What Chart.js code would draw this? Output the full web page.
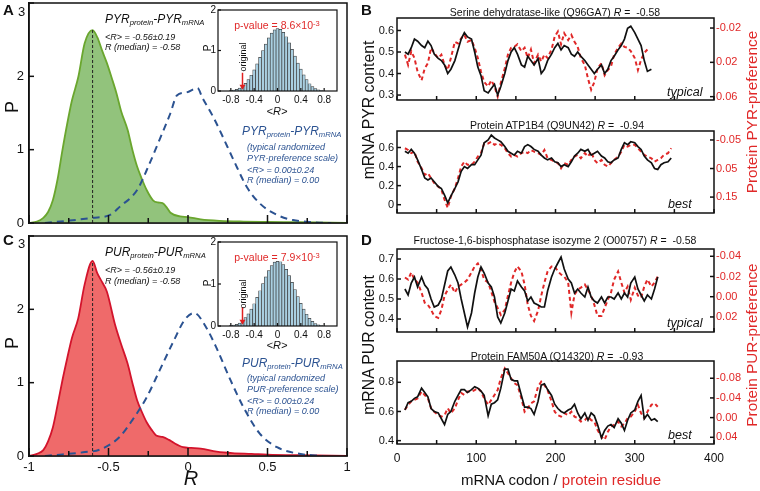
<!DOCTYPE html>
<html>
<head>
<meta charset="utf-8">
<script src="https://cdn.jsdelivr.net/npm/chart.js@4.4.0/dist/chart.umd.min.js"></script>
<style>
body { margin: 0; background: #fff; }
#fig { position: relative; width: 760px; height: 491px; overflow: hidden; font-family: "Liberation Sans", Arial, sans-serif; }
.c { position: absolute; }
.t { position: absolute; white-space: nowrap; line-height: 1; color: #111; }
.i { font-style: italic; }
.blue { color: #2b5291; }
.red { color: #e02828; }
.lab { font-weight: bold; font-size: 15px; }
.rot { transform: translate(-50%, -50%) rotate(-90deg); }
.ctr { transform: translateX(-50%); }
sub { font-size: 0.64em; vertical-align: -0.3em; line-height: 0; }
sup { font-size: 0.72em; vertical-align: 0.45em; line-height: 0; }
</style>
</head>
<body>
<div id="fig"></div>
<script>
// ---- left panels: distributions of R ----
const greenR = [-1.0,-0.95,-0.91,-0.88,-0.85,-0.82,-0.79,-0.76,-0.73,-0.69,-0.65,-0.60,-0.57,-0.54,-0.51,-0.48,-0.45,-0.42,-0.38,-0.35,-0.32,-0.29,-0.26,-0.22,-0.19,-0.16,-0.13,-0.11,-0.05,0.0,0.08,0.2,0.35,0.5,0.7,1.0];
const greenP = [0,0.02,0.07,0.15,0.31,0.6,0.99,1.35,1.67,1.99,2.45,2.63,2.53,2.35,2.18,1.98,1.77,1.52,1.27,1.0,0.77,0.6,0.45,0.31,0.28,0.27,0.2,0.14,0.09,0.08,0.05,0.03,0.02,0.015,0.01,0];
const blueAR = [-0.9,-0.76,-0.6,-0.49,-0.43,-0.32,-0.24,-0.18,-0.11,-0.07,-0.01,0.06,0.09,0.16,0.25,0.31,0.37,0.45,0.56,0.66,0.79,0.9];
const blueAP = [0.0,0.03,0.07,0.11,0.22,0.45,0.82,1.13,1.50,1.74,1.78,1.84,1.71,1.44,1.03,0.75,0.49,0.27,0.11,0.04,0.01,0.0];
const redR = [-1.0,-0.95,-0.91,-0.88,-0.85,-0.82,-0.79,-0.76,-0.73,-0.69,-0.65,-0.60,-0.57,-0.54,-0.51,-0.46,-0.42,-0.38,-0.35,-0.32,-0.29,-0.26,-0.23,-0.20,-0.16,-0.12,-0.09,-0.03,0.02,0.08,0.18,0.28,0.4,0.5,0.7,1.0];
const redP = [0,0.03,0.08,0.2,0.39,0.7,1.03,1.33,1.61,1.88,2.34,2.66,2.49,2.37,2.24,1.80,1.52,1.26,1.0,0.76,0.6,0.46,0.36,0.28,0.26,0.22,0.18,0.12,0.11,0.10,0.06,0.04,0.03,0.02,0.01,0];
const blueCR = [-0.9,-0.85,-0.66,-0.55,-0.43,-0.35,-0.26,-0.18,-0.09,-0.02,0.04,0.11,0.18,0.26,0.35,0.45,0.56,0.70,0.85];
const blueCP = [0.0,0.01,0.05,0.09,0.26,0.49,0.80,1.16,1.57,1.86,1.95,1.77,1.47,1.07,0.66,0.31,0.12,0.03,0.0];
const medianR = -0.6, peakA = 2.63, peakC = 2.66;
const rTicks = [-1,-0.75,-0.5,-0.25,0,0.25,0.5,0.75,1];
const pTicks = [0,1,2,3];

// insets: histograms of <R> for randomized scales
const binR = [-0.85,-0.80,-0.75,-0.70,-0.65,-0.60,-0.55,-0.50,-0.45,-0.40,-0.35,-0.30,-0.25,-0.20,-0.15,-0.10,-0.05,0.00,0.05,0.10,0.15,0.20,0.25,0.30,0.35,0.40,0.45,0.50,0.55,0.60,0.65,0.70,0.75,0.80,0.85];
const histA = [0.00,0.01,0.02,0.04,0.07,0.12,0.19,0.28,0.39,0.52,0.67,0.83,1.00,1.16,1.31,1.43,1.51,1.54,1.52,1.45,1.34,1.19,1.03,0.86,0.69,0.54,0.40,0.28,0.18,0.11,0.06,0.03,0.01,0.00,0.00];
const histC = [0.00,0.01,0.02,0.04,0.07,0.12,0.20,0.29,0.40,0.53,0.68,0.84,1.01,1.17,1.32,1.44,1.52,1.54,1.53,1.46,1.35,1.20,1.04,0.87,0.70,0.54,0.40,0.28,0.18,0.11,0.06,0.03,0.01,0.00,0.00];
const originalR = -0.6, arrowTop = 0.45;
const insetXTicks = [-0.8,-0.4,0,0.4,0.8];
const insetYTicks = [0,1,2];

// ---- right panels: sliding-window profiles ----
const codons = [10,14,18,22,26,31,35,39,43,47,52,56,60,64,68,73,77,81,85,89,94,98,102,106,110,115,119,123,127,131,136,140,144,148,152,157,161,165,169,173,178,182,186,190,195,199,203,207,211,216,220,224,228,232,237,241,245,249,253,258,262,266,270,274,279,283,287,291,295,300,304,308,312,316,321,325,329,333,337,342,346];
const b1Pyr = [0.50,0.49,0.52,0.56,0.55,0.53,0.52,0.55,0.53,0.49,0.47,0.46,0.44,0.40,0.42,0.46,0.51,0.56,0.59,0.57,0.56,0.50,0.43,0.39,0.32,0.31,0.33,0.35,0.30,0.34,0.40,0.46,0.50,0.52,0.49,0.44,0.43,0.48,0.46,0.44,0.47,0.40,0.42,0.46,0.49,0.52,0.54,0.51,0.53,0.52,0.49,0.48,0.50,0.48,0.46,0.44,0.42,0.40,0.42,0.44,0.40,0.42,0.46,0.48,0.51,0.53,0.56,0.61,0.62,0.59,0.56,0.53,0.46,0.41,0.42];
const b1Pref = [0.011,0.023,0.007,0.015,0.031,0.041,0.027,0.021,0.003,0.009,0.015,0.011,0.023,0.029,0.015,-0.004,-0.002,-0.008,-0.012,-0.004,-0.006,0.003,0.015,0.031,0.043,0.048,0.041,0.048,0.060,0.044,0.027,0.011,0.003,0.002,-0.001,0.007,0.003,0.015,0.005,0.021,0.011,0.019,0.011,0.015,0.005,-0.010,-0.016,-0.001,-0.014,-0.006,-0.012,-0.004,0.002,0.015,0.023,0.039,0.052,0.043,0.027,0.021,0.035,0.029,0.025,0.011,0.003,-0.002,0.002,0.003,0.007,0.015,0.029,0.017,0.009,0.005];
const b2Pyr = [0.56,0.54,0.58,0.54,0.47,0.37,0.28,0.26,0.28,0.24,0.19,0.17,0.10,0.02,0.09,0.17,0.24,0.35,0.40,0.38,0.42,0.42,0.47,0.52,0.65,0.68,0.73,0.70,0.68,0.66,0.61,0.56,0.54,0.52,0.56,0.54,0.61,0.63,0.61,0.58,0.56,0.52,0.49,0.47,0.49,0.45,0.44,0.40,0.42,0.40,0.45,0.51,0.54,0.58,0.56,0.58,0.52,0.54,0.56,0.51,0.49,0.45,0.44,0.47,0.49,0.58,0.65,0.63,0.66,0.65,0.61,0.58,0.51,0.47,0.44,0.38,0.37,0.42,0.44,0.45,0.49];
const b2Pref = [-0.021,-0.015,-0.004,-0.009,0.026,0.049,0.072,0.066,0.084,0.101,0.113,0.124,0.159,0.188,0.148,0.119,0.084,0.043,0.026,0.037,0.037,0.026,0.008,-0.004,-0.038,-0.038,-0.044,-0.033,-0.038,-0.033,-0.021,-0.004,0.008,0.002,0.008,-0.004,-0.009,-0.004,-0.015,-0.009,-0.004,0.002,-0.015,0.014,0.020,0.026,0.031,0.049,0.031,0.037,0.020,0.008,0.002,0.014,-0.004,0.008,-0.009,0.020,0.031,0.020,0.037,0.043,0.031,0.020,0.008,-0.009,-0.033,-0.027,-0.033,-0.033,-0.021,-0.009,0.002,0.008,0.014,0.026,0.020,0.014,0.002,-0.004,-0.021];
const d1Pur = [0.55,0.52,0.58,0.61,0.56,0.61,0.57,0.55,0.50,0.46,0.47,0.50,0.57,0.64,0.66,0.62,0.58,0.50,0.43,0.36,0.43,0.53,0.61,0.66,0.63,0.58,0.56,0.51,0.41,0.38,0.43,0.49,0.55,0.54,0.59,0.56,0.54,0.49,0.51,0.48,0.47,0.46,0.46,0.54,0.61,0.65,0.68,0.71,0.65,0.60,0.58,0.53,0.55,0.53,0.51,0.56,0.51,0.49,0.48,0.51,0.48,0.51,0.51,0.50,0.53,0.50,0.53,0.51,0.58,0.61,0.55,0.52,0.49,0.52,0.50,0.55,0.61];
const d1Pref = [-0.019,-0.017,-0.024,-0.017,-0.014,-0.004,0.006,0.008,0.013,0.019,0.021,0.013,-0.001,-0.007,-0.012,-0.004,-0.010,-0.012,-0.014,-0.017,-0.024,-0.030,-0.033,-0.027,-0.017,-0.014,-0.005,0.005,0.011,0.018,0.013,-0.001,-0.014,-0.024,-0.030,-0.025,-0.012,0.008,0.019,0.024,0.014,-0.001,-0.014,-0.025,-0.030,-0.030,-0.025,-0.022,-0.020,-0.014,0.016,-0.002,-0.007,-0.009,-0.012,-0.007,-0.001,0.008,0.019,0.019,0.011,0.003,-0.004,-0.017,-0.025,-0.014,-0.004,-0.010,0.003,-0.009,-0.001,0.001,-0.010,-0.017,-0.010,-0.014,-0.020];
const d2Pur = [0.61,0.66,0.67,0.69,0.70,0.76,0.73,0.70,0.62,0.60,0.59,0.55,0.51,0.58,0.60,0.67,0.71,0.75,0.75,0.73,0.75,0.77,0.76,0.74,0.71,0.57,0.65,0.66,0.68,0.76,0.89,0.89,0.82,0.81,0.81,0.71,0.63,0.63,0.62,0.58,0.67,0.78,0.79,0.75,0.71,0.65,0.62,0.60,0.59,0.61,0.62,0.65,0.59,0.55,0.59,0.54,0.59,0.57,0.51,0.42,0.47,0.50,0.51,0.49,0.55,0.52,0.47,0.54,0.59,0.61,0.67,0.71,0.55,0.58,0.54,0.55,0.53];
const d2Pref = [-0.016,-0.026,-0.033,-0.036,-0.039,-0.053,-0.046,-0.039,-0.019,-0.012,-0.005,-0.002,-0.005,-0.019,-0.009,-0.019,-0.036,-0.050,-0.046,-0.053,-0.053,-0.056,-0.060,-0.053,-0.039,-0.026,-0.036,-0.046,-0.056,-0.080,-0.100,-0.090,-0.080,-0.070,-0.066,-0.039,-0.012,-0.019,-0.029,-0.033,-0.063,-0.073,-0.066,-0.056,-0.033,-0.012,-0.005,-0.002,-0.009,-0.005,-0.012,-0.002,0.001,0.008,0.005,-0.002,0.005,0.008,0.025,0.039,0.045,0.029,0.018,0.015,0.008,0.018,0.012,0.001,-0.002,-0.012,-0.026,-0.009,0.001,-0.012,-0.026,-0.029,-0.022];
const codonTicks = [0,50,100,150,200,250,300,350,400];
const codonLabels = [0,100,200,300,400];

const fig = document.getElementById('fig');
const FONT = '"Liberation Sans", Arial, sans-serif';

function pts(xs, ys) {
  const out = [];
  for (let i = 0; i < ys.length; i++) out.push({x: xs[i], y: ys[i]});
  return out;
}

// frame + inward tick marks, optional white plot background
// settings are kept on the canvas element (fr)
const frame = {
  id: 'frame',
  beforeDraw(chart) {
    const o = chart.canvas.fr;
    if (!o || !o.bg) return;
    const a = chart.chartArea, ctx = chart.ctx;
    ctx.save();
    ctx.fillStyle = o.bg;
    ctx.fillRect(a.left, a.top, a.right - a.left, a.bottom - a.top);
    ctx.restore();
  },
  afterDraw(chart) {
    const o = chart.canvas.fr || {};
    const ctx = chart.ctx, a = chart.chartArea;
    ctx.save();
    ctx.strokeStyle = '#111';
    ctx.lineWidth = o.lw || 1.5;
    Object.keys(chart.scales).forEach(id => {
      const s = chart.scales[id];
      (s.ticks || []).forEach(t => {
        const p = s.getPixelForValue(t.value);
        let len = o.len || 4;
        if (id === 'x' && o.major) {
          const q = t.value / o.major;
          if (Math.abs(q - Math.round(q)) < 1e-6) len = o.majorLen;
        }
        ctx.beginPath();
        if (id === 'x') { ctx.moveTo(p, a.bottom); ctx.lineTo(p, a.bottom - len); }
        else if (id === 'y2') { ctx.moveTo(a.right, p); ctx.lineTo(a.right - len, p); }
        else { ctx.moveTo(a.left, p); ctx.lineTo(a.left + len, p); }
        ctx.stroke();
      });
    });
    ctx.strokeRect(a.left, a.top, a.right - a.left, a.bottom - a.top);
    if (o.arrowAt !== undefined) {
      const x = chart.scales.x.getPixelForValue(o.arrowAt);
      const y0 = chart.scales.y.getPixelForValue(o.arrowFrom);
      const y1 = chart.scales.y.getPixelForValue(0.03);
      ctx.strokeStyle = '#e02020'; ctx.fillStyle = '#e02020'; ctx.lineWidth = 1.5;
      ctx.beginPath(); ctx.moveTo(x, y0); ctx.lineTo(x, y1 - 4); ctx.stroke();
      ctx.beginPath(); ctx.moveTo(x - 3, y1 - 5); ctx.lineTo(x + 3, y1 - 5); ctx.lineTo(x, y1); ctx.closePath(); ctx.fill();
    }
    ctx.restore();
  }
};

function fitY(w) { return s => { s.width = w; s.paddingTop = 0; s.paddingBottom = 0; }; }
function fitX(h) { return s => { s.height = h; s.paddingLeft = 0; s.paddingRight = 0; }; }
function setTicks(vals) { return s => { s.ticks = vals.map(v => ({value: v})); }; }

// area = [left, top, right, bottom] of the plot box, m = margins [l, t, r, b]
function addChart(id, area, m, config, fr) {
  const d = document.createElement('div');
  d.className = 'c';
  d.id = 'box' + id;
  d.style.left = (area[0] - m[0]) + 'px';
  d.style.top = (area[1] - m[1]) + 'px';
  d.style.width = (area[2] - area[0] + m[0] + m[2]) + 'px';
  d.style.height = (area[3] - area[1] + m[1] + m[3]) + 'px';
  const cv = document.createElement('canvas');
  cv.id = id;
  cv.fr = fr;
  d.appendChild(cv);
  fig.appendChild(d);
  config.options.animation = false;
  config.options.responsive = true;
  config.options.maintainAspectRatio = false;
  config.options.events = [];
  config.options.layout = {padding: {top: m[1], right: config.options.scales.y2 ? 0 : m[2], left: 0, bottom: 0}};
  config.options.plugins = {legend: {display: false}, tooltip: {enabled: false}};
  config.plugins = [frame];
  return new Chart(cv, config);
}

const edge = {display: true, color: '#111', width: 1.5};

// main distribution panel (A / C)
function distChart(id, top, fillColor, lineColor, r, p, br, bp, peak, showLabels) {
  addChart(id, [29, top, 347, top + 220], [30, 8, 8, showLabels ? 30 : 4], {
    type: 'line',
    data: {datasets: [
      {data: pts(r, p), order: 2, borderColor: lineColor, backgroundColor: fillColor, fill: 'origin', borderWidth: 1.8, pointRadius: 0, cubicInterpolationMode: 'monotone'},
      {data: pts(br, bp), order: 1, borderColor: '#2b5291', borderDash: [7, 5], borderWidth: 2, pointRadius: 0, fill: false, cubicInterpolationMode: 'monotone'},
      {data: [{x: medianR, y: 0}, {x: medianR, y: peak}], order: 0, borderColor: '#222', borderDash: [3, 2], borderWidth: 1, pointRadius: 0, fill: false}
    ]},
    options: {
      scales: {
        x: {type: 'linear', min: -1, max: 1, grid: {display: false, drawTicks: false}, border: edge,
            afterBuildTicks: setTicks(rTicks), afterFit: fitX(showLabels ? 30 : 4),
            ticks: {display: showLabels, padding: 4, color: '#111', font: {family: FONT, size: 13},
                    callback: v => (Math.abs(v * 2 - Math.round(v * 2)) < 1e-6 ? String(v) : '')}},
        y: {type: 'linear', min: 0, max: 3, grid: {display: false, drawTicks: false}, border: edge,
            afterBuildTicks: setTicks(pTicks), afterFit: fitY(30),
            ticks: {padding: 5, color: '#111', font: {family: FONT, size: 13}, callback: v => (v === 3 ? '' : String(v))}}
      }
    }
  }, {len: 5, major: 0.5, majorLen: 8, lw: 1.5});
}

function insetChart(id, area, hist) {
  addChart(id, area, [18, 6, 4, 16], {
    type: 'bar',
    data: {datasets: [{data: pts(binR, hist), backgroundColor: '#a9cfe1', borderColor: '#3c3c3c', borderWidth: 0.7, barPercentage: 1, categoryPercentage: 1}]},
    options: {
      scales: {
        x: {type: 'linear', min: -1.02, max: 1.02, offset: false, grid: {display: false, drawTicks: false}, border: {display: false},
            afterBuildTicks: setTicks(insetXTicks), afterFit: fitX(16),
            ticks: {padding: 3, color: '#111', font: {family: FONT, size: 10}, callback: v => String(v)}},
        y: {type: 'linear', min: 0, max: 2, grid: {display: false, drawTicks: false}, border: {display: false},
            afterBuildTicks: setTicks(insetYTicks), afterFit: fitY(18),
            ticks: {padding: 2, color: '#111', font: {family: FONT, size: 10}}}
      }
    }
  }, {bg: '#fff', len: 3, lw: 1.2, arrowAt: originalR, arrowFrom: arrowTop});
}

// profile panel (B / D)
function profileChart(id, area, left, right, yMin, yMax, yTicks, y2Min, y2Max, y2Ticks, showX) {
  addChart(id, area, [30, 4, 36, showX ? 20 : 4], {
    type: 'line',
    data: {datasets: [
      {data: pts(codons, left), yAxisID: 'y', order: 0, borderColor: '#111', borderWidth: 1.7, pointRadius: 0, fill: false},
      {data: pts(codons, right), yAxisID: 'y2', order: 1, borderColor: '#e02828', borderDash: [4, 3], borderWidth: 2, pointRadius: 0, fill: false}
    ]},
    options: {
      scales: {
        x: {type: 'linear', min: 0, max: 400, grid: {display: false, drawTicks: false}, border: {display: false},
            afterBuildTicks: setTicks(codonTicks), afterFit: fitX(showX ? 20 : 4),
            ticks: {display: showX, padding: 7, color: '#111', font: {family: FONT, size: 12},
                    callback: v => (codonLabels.includes(v) ? String(v) : '')}},
        y: {type: 'linear', min: yMin, max: yMax, grid: {display: false, drawTicks: false}, border: {display: false},
            afterBuildTicks: setTicks(yTicks), afterFit: fitY(30),
            ticks: {padding: 3, color: '#111', font: {family: FONT, size: 11}, callback: v => (v === 0 ? '0' : v.toFixed(1))}},
        y2: {type: 'linear', position: 'right', reverse: true, min: y2Min, max: y2Max, grid: {display: false, drawTicks: false}, border: {display: false},
            afterBuildTicks: setTicks(y2Ticks), afterFit: fitY(36),
            ticks: {padding: 2, color: '#e02828', font: {family: FONT, size: 11}, callback: v => v.toFixed(2)}}
      }
    }
  }, {len: 4, lw: 1.5});
}

distChart('pA', 3, '#92c37c', '#6aa62e', greenR, greenP, blueAR, blueAP, peakA, false);
distChart('pC', 236, '#ef6a6a', '#d3142c', redR, redP, blueCR, blueCP, peakC, true);
insetChart('iA', [218, 10, 337, 91], histA);
insetChart('iC', [218, 242, 337, 326], histC);

profileChart('pB1', [397, 18, 714, 100], b1Pyr, b1Pref, 0.277, 0.658, [0.3, 0.4, 0.5, 0.6], -0.0317, 0.0639, [-0.02, 0.02, 0.06], false);
profileChart('pB2', [397, 131, 714, 213], b2Pyr, b2Pref, -0.087, 0.773, [0, 0.2, 0.4, 0.6], -0.0814, 0.2057, [-0.05, 0.05, 0.15], false);
profileChart('pD1', [397, 249, 714, 332], d1Pur, d1Pref, 0.335, 0.75, [0.4, 0.5, 0.6, 0.7], -0.0472, 0.0349, [-0.04, -0.02, 0, 0.02], false);
profileChart('pD2', [397, 361, 714, 444], d2Pur, d2Pref, 0.377, 0.946, [0.4, 0.6, 0.8], -0.115, 0.0536, [-0.08, -0.04, 0, 0.04], true);

// ---- text ----
const small = s => '<span style="font-size:9px">' + s + '</span>';
const big = s => '<span style="font-size:12px">' + s + '</span>';
const texts = [
  ['lab', 3, 2, 'A'], ['lab', 361, 2, 'B'], ['lab', 3, 232, 'C'], ['lab', 361, 232, 'D'],
  ['', 18, 3, '<span style="font-size:13px">3</span>'], ['', 18, 235, '<span style="font-size:13px">3</span>'],
  ['i', 105, 10, big('PYR<sub>protein</sub>-PYR<sub>mRNA</sub>')],
  ['i', 105, 27, small('&lt;R&gt; = -0.56±0.19')],
  ['i', 105, 37, small('R (median) = -0.58')],
  ['i blue', 242, 122, big('PYR<sub>protein</sub>-PYR<sub>mRNA</sub>')],
  ['i blue', 247, 137, small('(typical randomized')],
  ['i blue', 247, 148, small('PYR-preference scale)')],
  ['i blue', 247, 160, small('&lt;R&gt; = 0.00±0.24')],
  ['i blue', 247, 170, small('R (median) = 0.00')],
  ['i', 105, 243, big('PUR<sub>protein</sub>-PUR<sub>mRNA</sub>')],
  ['i', 105, 260, small('&lt;R&gt; = -0.56±0.19')],
  ['i', 105, 271, small('R (median) = -0.58')],
  ['i blue', 242, 354, big('PUR<sub>protein</sub>-PUR<sub>mRNA</sub>')],
  ['i blue', 247, 368, small('(typical randomized')],
  ['i blue', 247, 379, small('PUR-preference scale)')],
  ['i blue', 247, 391, small('&lt;R&gt; = 0.00±0.24')],
  ['i blue', 247, 401, small('R (median) = 0.00')],
  ['red ctr', 277, 16, '<span style="font-size:10.5px">p-value = 8.6×10<sup>-3</sup></span>'],
  ['red ctr', 277, 248, '<span style="font-size:10.5px">p-value = 7.9×10<sup>-3</sup></span>'],
  ['i ctr', 277, 102, '<span style="font-size:11px">&lt;R&gt;</span>'],
  ['i ctr', 277, 336, '<span style="font-size:11px">&lt;R&gt;</span>'],
  ['ctr', 555, 3, '<span style="font-size:10.5px">Serine dehydratase-like (Q96GA7) <i>R</i> =&nbsp; -0.58</span>'],
  ['ctr', 557, 116, '<span style="font-size:10.5px">Protein ATP1B4 (Q9UN42) <i>R</i> =&nbsp; -0.94</span>'],
  ['ctr', 555, 231, '<span style="font-size:10.5px">Fructose-1,6-bisphosphatase isozyme 2 (O00757) <i>R</i> =&nbsp; -0.58</span>'],
  ['ctr', 557, 347, '<span style="font-size:10.5px">Protein FAM50A (Q14320) <i>R</i> =&nbsp; -0.93</span>'],
  ['i', 667, 83, '<span style="font-size:12.5px">typical</span>'],
  ['i', 668, 195, '<span style="font-size:12.5px">best</span>'],
  ['i', 667, 314, '<span style="font-size:12.5px">typical</span>'],
  ['i', 668, 426, '<span style="font-size:12.5px">best</span>'],
  ['i ctr', 191, 468, '<span style="font-size:20px">R</span>'],
  ['ctr', 561, 472, '<span style="font-size:15px">mRNA codon / <span class="red">protein residue</span></span>']
];
texts.forEach(([cls, x, y, html]) => {
  const e = document.createElement('div');
  e.className = 't ' + cls;
  e.style.left = x + 'px';
  e.style.top = y + 'px';
  e.innerHTML = html;
  fig.appendChild(e);
});

// rotated titles: [class, centerX, centerY, size, text]
const rotated = [
  ['', 12, 107, 18, 'P'], ['', 12, 343, 18, 'P'],
  ['', 208, 48, 10, 'P'], ['', 208, 283, 10, 'P'],
  ['', 243, 57, 9, 'original'], ['', 243, 294, 9, 'original'],
  ['', 369, 110, 15.8, 'mRNA PYR content'], ['', 369, 345, 15.8, 'mRNA PUR content'],
  ['red', 752, 112, 15.3, 'Protein PYR-preference'], ['red', 752, 345, 15.3, 'Protein PUR-preference']
];
rotated.forEach(([cls, x, y, size, txt]) => {
  const e = document.createElement('div');
  e.className = 't rot ' + cls;
  e.style.left = x + 'px';
  e.style.top = y + 'px';
  e.style.fontSize = size + 'px';
  e.textContent = txt;
  fig.appendChild(e);
});
</script>
</body>
</html>
